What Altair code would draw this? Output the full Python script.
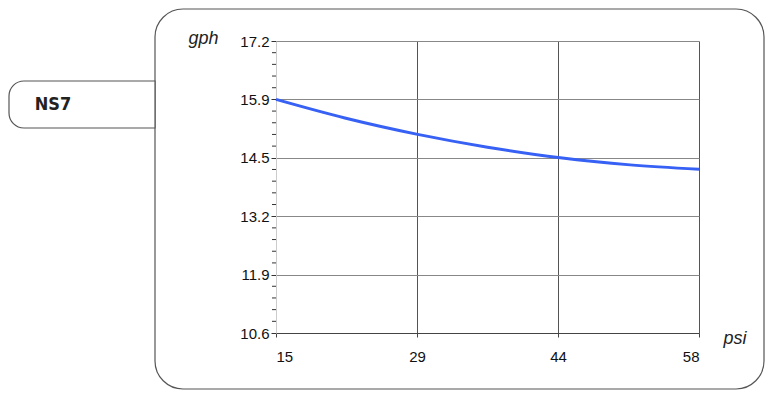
import altair as alt
import pandas as pd

# ---- data ----
PSI = [15, 22, 29.4, 36.5, 43.9, 51.0, 58]
GPH = [15.88, 15.46, 15.09, 14.80, 14.56, 14.40, 14.30]

X_TICKS = [15, 29.333, 43.667, 58]
X_TICK_LABELS = ["15", "29", "44", "58"]
Y_TICKS = [10.6, 11.92, 13.24, 14.56, 15.88, 17.2]
Y_TICK_LABELS = ["10.6", "11.9", "13.2", "14.5", "15.9", "17.2"]
MINOR_PER_STEP = 5

LABEL = "NS7"
X_TITLE = "psi"
Y_TITLE = "gph"

LINE_COLOR = "#3760f5"


def label_expr(values, labels):
    expr = "datum.label"
    for v, l in reversed(list(zip(values, labels))):
        expr = f"abs(datum.value - {v}) < 0.01 ? '{l}' : ({expr})"
    return expr


minor = []
for a, b in zip(Y_TICKS[:-1], Y_TICKS[1:]):
    step = (b - a) / MINOR_PER_STEP
    for k in range(1, MINOR_PER_STEP):
        minor.append(a + k * step)

df = pd.DataFrame({"psi": PSI, "gph": GPH})
minor_df = pd.DataFrame({"v": minor})

xscale = alt.Scale(domain=[X_TICKS[0], X_TICKS[-1]], nice=False, zero=False)
yscale = alt.Scale(domain=[Y_TICKS[0], Y_TICKS[-1]], nice=False, zero=False)

FONT = "Liberation Sans, Arial, sans-serif"

y_axis = alt.Axis(
    values=Y_TICKS,
    labelExpr=label_expr(Y_TICKS, Y_TICK_LABELS),
    title=Y_TITLE,
    titleFont=FONT, titleFontSize=18, titleFontStyle="italic",
    titleFontWeight="normal", titleColor="#222222",
    titleAngle=0, titleAlign="left", titleBaseline="alphabetic",
    titleX=-88, titleY=2,
    labelFont=FONT, labelFontSize=15, labelColor="#111111",
    labelPadding=2,
    domain=True, domainColor="#cccccc", domainWidth=1,
    ticks=True, tickColor="#333333", tickSize=5,
    grid=True, gridColor="#888888", gridWidth=1,
)

x_axis = alt.Axis(
    values=X_TICKS,
    labelExpr=label_expr(X_TICKS, X_TICK_LABELS),
    title=X_TITLE,
    titleFont=FONT, titleFontSize=18, titleFontStyle="italic",
    titleFontWeight="normal", titleColor="#222222",
    titleAngle=0, titleAlign="left", titleBaseline="alphabetic",
    titleX=447, titleY=10,
    labelFont=FONT, labelFontSize=15, labelColor="#111111",
    labelPadding=12, labelAngle=0,
    domain=True, domainColor="#444444", domainWidth=1,
    ticks=True, tickColor="#444444", tickSize=4,
    grid=True,
    gridColor={"condition": {"test": "datum.value < 16", "value": "#cccccc"},
               "value": "#555555"},
    gridWidth=1,
)

one = alt.Data(values=[{}])

frame = alt.Chart(one).mark_rect(
    fill="white", fillOpacity=0, stroke="#555555", strokeWidth=1.2, cornerRadius=28
).encode(x=alt.value(-121), x2=alt.value(488), y=alt.value(-32), y2=alt.value(348))

tab = alt.Chart(one).mark_rect(
    fill="white", stroke="#555555", strokeWidth=1.2,
    cornerRadiusTopLeft=15, cornerRadiusBottomLeft=15,
    cornerRadiusTopRight=0, cornerRadiusBottomRight=0,
).encode(x=alt.value(-267), x2=alt.value(-121), y=alt.value(40), y2=alt.value(87))

tab_text = alt.Chart(one).mark_text(
    font="Liberation Sans Narrow, DejaVu Sans Condensed, DejaVu Sans", fontWeight="bold",
    fontSize=18, color="#222222", align="center", baseline="middle",
).encode(x=alt.value(-223), y=alt.value(64), text=alt.value(LABEL))

line = alt.Chart(df).mark_line(
    color=LINE_COLOR, strokeWidth=3, interpolate="monotone"
).encode(
    x=alt.X("psi:Q", scale=xscale, axis=x_axis),
    y=alt.Y("gph:Q", scale=yscale, axis=y_axis),
)

minor_ticks = alt.Chart(minor_df).mark_rule(color="#333333", strokeWidth=1).encode(
    y=alt.Y("v:Q", scale=yscale, axis=y_axis),
    x=alt.value(-4),
    x2=alt.value(0),
)

chart = alt.layer(frame, tab, tab_text, line, minor_ticks).properties(
    width=423,
    height=292,
    autosize=alt.AutoSizeParams(type="none"),
    padding={"left": 268, "top": 33, "right": 66, "bottom": 57},
).configure_view(stroke=None)

chart.save("out.html", embed_options={"renderer": "svg", "actions": False})
